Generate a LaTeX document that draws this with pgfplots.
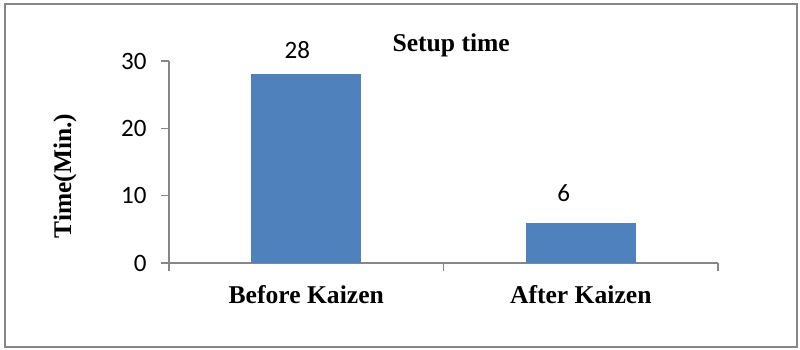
\documentclass[border=0pt]{standalone}
\usepackage{pgfplots}
\pgfplotsset{compat=1.18}
\usepackage{fontspec}
\setmainfont{Liberation Serif}
\newfontfamily\calibri{Carlito}
\definecolor{barblue}{HTML}{4F81BD}
\definecolor{axgray}{HTML}{868686}
\begin{document}
\begin{tikzpicture}
\path[use as bounding box] (0,0) rectangle (800pt,350pt);
\draw[color=axgray, line width=1.6pt] (5pt,3pt) rectangle (797pt,346pt);
\begin{axis}[
  at={(169pt,87pt)}, anchor=south west,
  scale only axis, width=549pt, height=202pt,
  xmin=-0.5, xmax=1.5, ymin=0, ymax=30,
  clip=false,
  axis lines*=left,
  axis line style={axgray, line width=1.6pt},
  /pgf/number format/assume math mode=true,
  ytick={0,10,20,30},
  xtick={0,1},
  xticklabels={Before Kaizen, After Kaizen},
  minor xtick={-0.5,0.5,1.5},
  tick align=outside,
  major tick length=8pt,
  minor tick length=8pt,
  major x tick style={draw=none},
  minor x tick style={draw=axgray, line width=1.6pt},
  y tick style={draw=axgray, line width=1.6pt},
  yticklabel style={font=\calibri\fontsize{25}{25}\selectfont, text=black, xshift=-11pt},
  xticklabel style={font=\bfseries\fontsize{25.6}{28}\selectfont, text=black, yshift=-11pt},
  title={Setup time},
  title style={at={(rel axis cs:0.514,1)}, anchor=base, yshift=3pt, font=\bfseries\fontsize{25.6}{28}\selectfont},
  ylabel={Time(Min.)},
  ylabel style={at={(rel axis cs:-0.1894,0.43)}, anchor=center, font=\bfseries\fontsize{25.4}{28}\selectfont},
]
\addplot[ybar, bar width=110pt, bar shift=0pt, fill=barblue, draw=none,
  nodes near coords,
  nodes near coords style={font=\calibri\fontsize{25}{25}\selectfont, text=black, anchor=base, xshift=-9pt, yshift=16pt}]
  coordinates {(0,28)};
\addplot[ybar, bar width=110pt, bar shift=0pt, fill=barblue, draw=none,
  nodes near coords,
  nodes near coords style={font=\calibri\fontsize{25}{25}\selectfont, text=black, anchor=base, xshift=-17pt, yshift=21pt}]
  coordinates {(1,6)};
\end{axis}
\end{tikzpicture}
\end{document}
